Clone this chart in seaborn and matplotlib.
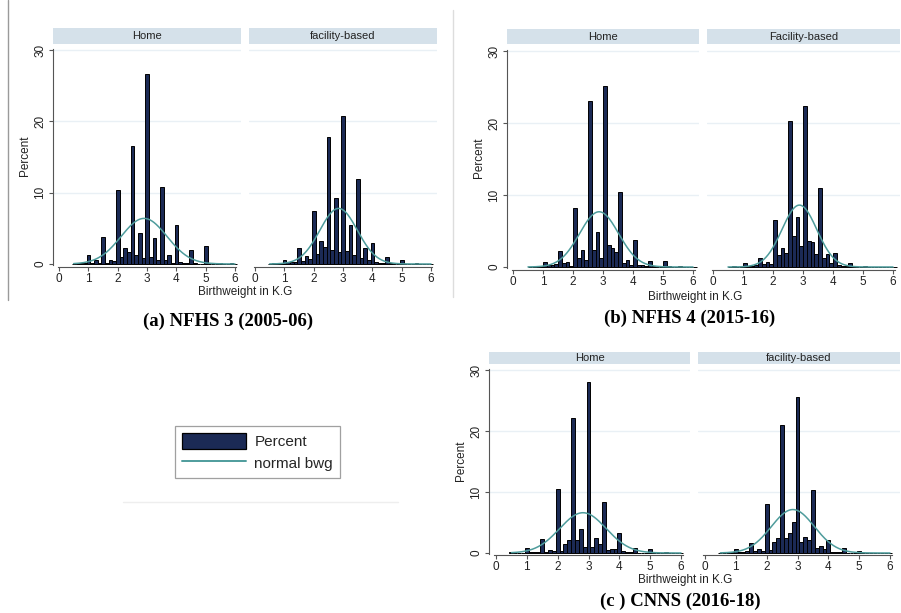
import numpy as np
import pandas as pd
import seaborn as sns
import matplotlib
matplotlib.use("Agg")
import matplotlib.pyplot as plt
from matplotlib.patches import Patch
from matplotlib.lines import Line2D

# ---------------- data ----------------
bin_width = 0.125
bin_centers = np.arange(0.5, 6.0001, bin_width)   # 45 bins, 0.5 ... 6.0

a_home = [0.05, 0.1, 0.1, 0.2, 1.3, 0.2, 0.5, 0.1, 3.8, 0.2, 0.6, 0.4,
          10.4, 1.0, 2.3, 1.7, 16.5, 1.2, 4.4, 0.8, 26.6, 1.0, 3.7, 0.6,
          10.8, 0.5, 1.3, 0.2, 5.5, 0.3, 0.1, 0.1, 2.0, 0.1, 0.05, 0.05,
          2.5, 0.05, 0, 0, 0.2, 0, 0, 0.1, 0]
a_fac = [0.05, 0.1, 0.15, 0.1, 0.6, 0.3, 0.3, 0.3, 2.2, 0.4, 1.1, 0.7,
         7.4, 1.4, 3.2, 2.4, 17.8, 2.0, 9.3, 1.7, 20.8, 1.8, 5.4, 1.2,
         11.9, 0.8, 2.2, 0.6, 2.9, 0.3, 0.2, 0.1, 1.0, 0.1, 0.05, 0.05,
         0.6, 0.05, 0, 0, 0.1, 0, 0, 0.05, 0]
b_home = [0.05, 0, 0.1, 0.1, 0.7, 0.3, 0.3, 0.4, 2.2, 0.5, 0.7, 0.1,
          8.2, 1.3, 2.3, 1.0, 23.0, 2.4, 4.9, 1.3, 25.2, 3.0, 2.6, 2.1,
          10.4, 0.6, 1.0, 0.3, 3.7, 0.3, 0.3, 0.1, 0.9, 0.1, 0.05, 0.05,
          0.9, 0.1, 0, 0.05, 0.1, 0, 0, 0, 0]
b_fac = [0.05, 0.1, 0.05, 0.05, 0.5, 0.2, 0.2, 0.3, 1.3, 0.4, 0.7, 0.4,
         6.5, 1.6, 2.7, 2.0, 20.3, 4.3, 7.0, 2.9, 22.3, 3.6, 3.5, 1.8,
         11.0, 1.2, 1.8, 0.6, 2.0, 0.3, 0.2, 0.1, 0.6, 0.1, 0.05, 0.05,
         0.2, 0.05, 0, 0, 0.05, 0, 0, 0, 0]
c_home = [0.15, 0.05, 0.05, 0.05, 0.9, 0.1, 0.15, 0.2, 2.3, 0.2, 0.5, 0.3,
          10.5, 0.4, 1.5, 2.2, 22.2, 2.2, 3.9, 1.0, 28.0, 1.0, 2.4, 1.5,
          8.3, 0.5, 0.7, 0.7, 3.2, 0.3, 0.1, 0.1, 0.8, 0.05, 0.05, 0.05,
          0.7, 0.05, 0, 0, 0.1, 0, 0.05, 0.05, 0.05]
c_fac = [0.05, 0, 0.05, 0.1, 0.6, 0.1, 0.2, 0.3, 1.7, 0.3, 0.6, 0.3,
         8.0, 0.5, 1.8, 2.4, 21.0, 2.5, 3.3, 5.1, 25.5, 1.8, 2.6, 2.2,
         10.3, 0.9, 1.1, 0.6, 2.2, 0.2, 0.1, 0.1, 0.8, 0.05, 0.05, 0.05,
         0.3, 0.05, 0.05, 0, 0.05, 0, 0, 0, 0]

# normal curve parameters (mean, sd) per panel
normal_params = {
    "a_home": (2.90, 0.78), "a_fac": (2.85, 0.64),
    "b_home": (2.87, 0.65), "b_fac": (2.88, 0.58),
    "c_home": (2.82, 0.755), "c_fac": (2.85, 0.70),
}

facet_labels = {
    "a": ("Home", "facility-based"),
    "b": ("Home", "Facility-based"),
    "c": ("Home", "facility-based"),
}
captions = {"a": "(a) NFHS 3 (2005-06)", "b": "(b) NFHS 4 (2015-16)",
            "c": "(c ) CNNS (2016-18)"}
x_ticks = [0, 1, 2, 3, 4, 5, 6]
y_ticks = [0, 10, 20, 30]
xlabel_text = "Birthweight in K.G"
ylabel_text = "Percent"
legend_labels = ["Percent", "normal bwg"]

# ---------------- style ----------------
sns.set_style("white")
plt.rcParams["font.family"] = ["Liberation Sans", "DejaVu Sans"]

NAVY = "#1b2a55"
TEAL = "#4e9c9c"
STRIP = "#d5e1ea"
GRID = "#e9f0f5"
AXC = "#555555"
TXT = "#222222"

W, H = 901, 613
fig = plt.figure(figsize=(W / 100, H / 100), dpi=100)


def add_ax(left, top, right, bottom):
    return fig.add_axes([left / W, 1 - bottom / H, (right - left) / W, (bottom - top) / H])


geom = {
    "a": dict(cols=[(59, 235, 53, 241), (255, 431, 249, 437)],
              row=(264, 50, 45, 267, 28, 44), offset=0.0,
              ylab_x=25, xlab=(245, 292), cap=(228, 321)),
    "b": dict(cols=[(513, 693, 507, 699), (713, 893, 707, 900)],
              row=(267, 51, 45, 270, 29, 44), offset=bin_width / 2,
              ylab_x=479, xlab=(695, 297), cap=(690, 318)),
    "c": dict(cols=[(496, 681, 489, 690), (705, 890, 698, 900)],
              row=(553, 370, 366, 555, 352, 364), offset=0.0,
              ylab_x=461, xlab=(685, 580), cap=(680, 601)),
}
series = {"a": (a_home, a_fac), "b": (b_home, b_fac), "c": (c_home, c_fac)}

for key, g in geom.items():
    y0px, y30px, top, bottom, s_top, s_bot = g["row"]
    for j, (x0px, x6px, left, right) in enumerate(g["cols"]):
        ax = add_ax(left, top, right, bottom)
        pct = np.array(series[key][j], dtype=float)
        centers = bin_centers + g["offset"]
        df = pd.DataFrame({"bwt": centers, "pct": pct})
        for yt in y_ticks[1:]:
            ax.axhline(yt, color=GRID, lw=1.0, zorder=0)
        sns.histplot(data=df, x="bwt", weights="pct", binwidth=bin_width,
                     binrange=(float(centers[0] - bin_width / 2),
                               float(centers[-1] + bin_width / 2)),
                     ax=ax, color=NAVY, edgecolor="black", linewidth=0.7,
                     alpha=1.0, zorder=2)
        nk = f"{key}_{'home' if j == 0 else 'fac'}"
        mu, sd = normal_params[nk]
        xs = np.linspace(0.5, 6.0, 300)
        ys = 100 * bin_width * np.exp(-0.5 * ((xs - mu) / sd) ** 2) / (sd * np.sqrt(2 * np.pi))
        sns.lineplot(x=xs, y=ys, ax=ax, color=TEAL, lw=1.1, zorder=3)

        sx = 6.0 / (x6px - x0px)
        ax.set_xlim((left - x0px) * sx, (right - x0px) * sx)
        sy = 30.0 / (y0px - y30px)
        ax.set_ylim((y0px - bottom) * sy, (y0px - top) * sy)

        ax.set_xticks(x_ticks)
        ax.set_xticklabels([str(t) for t in x_ticks], fontsize=8.5)
        ax.set_xlabel("")
        ax.set_ylabel("")
        for s in ["top", "right"]:
            ax.spines[s].set_visible(False)
        ax.spines["bottom"].set_color(AXC)
        ax.spines["bottom"].set_linewidth(0.8)
        ax.spines["bottom"].set_bounds(-0.05, 6.05)
        ax.tick_params(axis="x", length=3, width=0.8, color=AXC, pad=1.5,
                       labelcolor=TXT, bottom=True)
        if j == 0:
            ax.set_yticks(y_ticks)
            ax.set_yticklabels([str(t) for t in y_ticks], fontsize=8.5,
                               rotation=90, va="center")
            ax.spines["left"].set_color(AXC)
            ax.spines["left"].set_linewidth(0.8)
            ax.spines["left"].set_bounds(-0.2, 30.2)
            ax.tick_params(axis="y", length=3, width=0.8, color=AXC, pad=2,
                           labelcolor=TXT, left=True)
        else:
            ax.spines["left"].set_visible(False)
            ax.set_yticks([])
        ax.set_facecolor("none")

        sax = add_ax(left, s_top, right, s_bot)
        sax.set_facecolor(STRIP)
        for s in sax.spines.values():
            s.set_visible(False)
        sax.set_xticks([])
        sax.set_yticks([])
        sax.text(0.5, 0.5, facet_labels[key][j], ha="center", va="center",
                 fontsize=8, color=TXT, transform=sax.transAxes)

    fig.text(g["ylab_x"] / W, 1 - ((top + bottom) / 2) / H, ylabel_text,
             rotation=90, ha="center", va="center", fontsize=8.5, color=TXT)
    fig.text(g["xlab"][0] / W, 1 - g["xlab"][1] / H, xlabel_text,
             ha="center", va="center", fontsize=8.5, color=TXT)
    fig.text(g["cap"][0] / W, 1 - g["cap"][1] / H, captions[key],
             ha="center", va="center", fontsize=13.5, fontweight="bold",
             family=["Liberation Serif", "DejaVu Serif"], color="black")

handles = [Patch(facecolor=NAVY, edgecolor="black", linewidth=0.9),
           Line2D([0], [0], color=TEAL, lw=1.4)]
leg = fig.legend(handles, legend_labels, loc="upper left",
                 bbox_to_anchor=(175 / W, 1 - 426 / H), frameon=True,
                 fancybox=False, edgecolor="#888888", fontsize=11,
                 handlelength=4.2, handleheight=1.2, borderpad=0.45,
                 labelspacing=0.4, handletextpad=0.55, borderaxespad=0)
leg.get_frame().set_linewidth(0.9)

fig.add_artist(Line2D([8 / W, 8 / W], [1.0, 1 - 300 / H], color="#9a9a9a", lw=1.0))
fig.add_artist(Line2D([453 / W, 453 / W], [1 - 10 / H, 1 - 297 / H], color="#dddddd", lw=1.0))
fig.add_artist(Line2D([123 / W, 398 / W], [1 - 502 / H, 1 - 502 / H], color="#eeeeee", lw=1.0))

fig.savefig("out.png", dpi=100, facecolor="white")
